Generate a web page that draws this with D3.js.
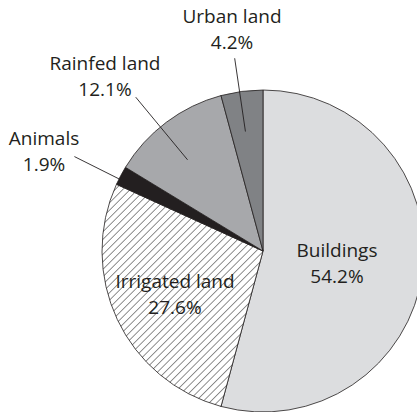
<!DOCTYPE html>
<html>
<head>
<meta charset="utf-8">
<script src="https://cdn.jsdelivr.net/npm/d3@7"></script>
<style>
  html, body { margin: 0; padding: 0; background: #ffffff; }
  svg { display: block; }
</style>
</head>
<body>
<svg id="chart" width="417" height="412"></svg>
<script>
// Shares of the total, clockwise from 12 o'clock
const categories = ["Buildings", "Irrigated land", "Animals", "Rainfed land", "Urban land"];
const shares = [54.2, 27.6, 1.9, 12.1, 4.2];
const valueLabels = ["54.2%", "27.6%", "1.9%", "12.1%", "4.2%"];

// Visual styling per category
const fills = ["#dcdddf", "url(#hatch)", "#231f20", "#a7a8ab", "#808285"];

const width = 417, height = 412;
const cx = 263, cy = 251, radius = 161;
const ink = "#231f20";

const svg = d3.select("#chart");

// Diagonal hatching for irrigated land
const defs = svg.append("defs");
const hatch = defs.append("pattern")
  .attr("id", "hatch")
  .attr("patternUnits", "userSpaceOnUse")
  .attr("width", 5.3)
  .attr("height", 5.3)
  .attr("patternTransform", "rotate(45)");
hatch.append("rect").attr("width", 5.3).attr("height", 5.3).attr("fill", "#ffffff");
hatch.append("line")
  .attr("x1", 0).attr("y1", 0).attr("x2", 0).attr("y2", 5.3)
  .attr("stroke", "#333333").attr("stroke-width", 1.1);

const data = categories.map((c, i) => ({ name: c, value: shares[i], label: valueLabels[i], fill: fills[i] }));

const pie = d3.pie().sort(null).value(d => d.value);
const arcs = pie(data);
const arc = d3.arc().innerRadius(0).outerRadius(radius);

const g = svg.append("g").attr("transform", `translate(${cx},${cy})`);

g.selectAll("path.slice")
  .data(arcs)
  .join("path")
  .attr("class", "slice")
  .attr("d", arc)
  .attr("fill", d => d.data.fill)
  .attr("stroke", ink)
  .attr("stroke-width", 0.8)
  .attr("stroke-linejoin", "round");

// Label placement: text offset from the pie centre, plus optional radial leader line
const labelLayout = {
  "Buildings":      { dx: 74,   dy: 6,    leader: null },
  "Irrigated land": { dx: -88,  dy: 37,   leader: null },
  "Animals":        { dx: -219, dy: -106, leader: { turn: -1.3, r0: 1.0,  r1: 1.31 } },
  "Rainfed land":   { dx: -158, dy: -181, leader: { turn: -2.7, r0: 0.735, r1: 1.24 } },
  "Urban land":     { dx: -31,  dy: -228, leader: { turn: -0.8, r0: 0.75, r1: 1.21 } }
};

const lineGap = 26;
const deg = Math.PI / 180;

arcs.forEach(a => {
  const lay = labelLayout[a.data.name];
  if (lay.leader) {
    const mid = (a.startAngle + a.endAngle) / 2 + lay.leader.turn * deg;
    const p0 = d3.pointRadial(mid, radius * lay.leader.r0);
    const p1 = d3.pointRadial(mid, radius * lay.leader.r1);
    g.append("line")
      .attr("x1", p0[0]).attr("y1", p0[1])
      .attr("x2", p1[0]).attr("y2", p1[1])
      .attr("stroke", ink).attr("stroke-width", 0.9);
  }
  const t = g.append("text")
    .attr("text-anchor", "middle")
    .attr("font-family", "'Open Sans', 'Noto Sans', sans-serif")
    .attr("font-size", 19)
    .attr("fill", ink);
  t.append("tspan").attr("x", lay.dx).attr("y", lay.dy).text(a.data.name);
  t.append("tspan").attr("x", lay.dx).attr("y", lay.dy + lineGap).text(a.data.label);
});
</script>
</body>
</html>
